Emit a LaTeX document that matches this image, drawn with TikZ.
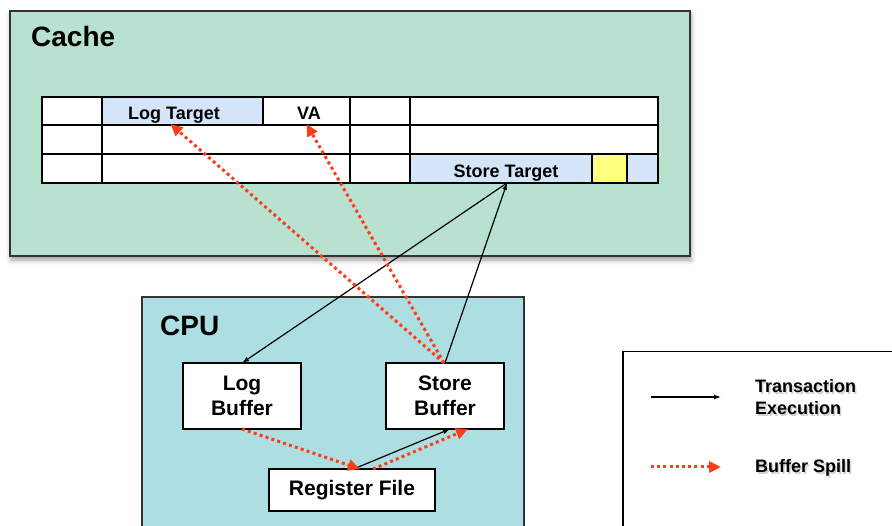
\documentclass[tikz,border=0pt]{standalone}
\usepackage{fontspec}
\setmainfont{Liberation Sans}
\usetikzlibrary{arrows.meta,calc,shadows.blur}

\definecolor{cachegreen}{HTML}{B8E1CF}
\definecolor{cpucyan}{HTML}{ADDFE2}
\definecolor{cellblue}{HTML}{D4E5FA}
\definecolor{cellyellow}{HTML}{FFFF80}
\definecolor{spillred}{HTML}{FF3B1A}

\tikzset{
  cell/.style={draw=black, line width=1.6pt, fill=white, inner sep=0pt, outer sep=0pt, anchor=north west},
  unit/.style={draw=black!80, line width=1.6pt, inner sep=0pt, outer sep=0pt, anchor=north west},
  block/.style={draw=black, line width=1.5pt, fill=white, align=center,
    font=\fontsize{21}{25}\selectfont\bfseries, inner sep=0pt, outer sep=0pt},
  exec/.style={-{Latex[length=7pt,width=5pt]}, line width=1.2pt, black},
  spill/.style={-{Triangle[length=12pt,width=11pt]}, line width=3pt, spillred,
    dash pattern=on 3pt off 3.2pt},
  title/.style={font=\fontsize{28}{32}\selectfont\bfseries, anchor=base west, inner sep=0pt},
  celltext/.style={font=\fontsize{18}{20}\selectfont\bfseries, anchor=base, inner sep=0pt},
  legtext/.style={font=\fontsize{18}{20}\selectfont\bfseries, anchor=base west, inner sep=0pt},
  legshadow/.style={legtext, text=black!40, opacity=0.45},
}

\begin{document}
\begin{tikzpicture}[x=1pt,y=-1pt]
\useasboundingbox (0,0) rectangle (892,526);
\clip (0,0) rectangle (892,526);

% cache block
\node[unit, fill=cachegreen, minimum width=680pt, minimum height=245pt,
  blur shadow={shadow xshift=1pt, shadow yshift=-4pt, shadow blur radius=5pt}] (cache) at (10,11) {};
\node[title] (cachetitle) at (31,47) {Cache};

% cache lines: row 1
\node[cell, minimum width=60pt, minimum height=28pt] (r1a) at (42,97) {};
\node[cell, fill=cellblue, minimum width=161pt, minimum height=28pt] (lt) at (102,97) {};
\node[cell, minimum width=87pt, minimum height=28pt] (va) at (263,97) {};
\node[cell, minimum width=60pt, minimum height=28pt] (r1d) at (350,97) {};
\node[cell, minimum width=248pt, minimum height=28pt] (r1e) at (410,97) {};
% row 2
\node[cell, minimum width=60pt, minimum height=29pt] (r2a) at (42,125) {};
\node[cell, minimum width=248pt, minimum height=29pt] (r2b) at (102,125) {};
\node[cell, minimum width=60pt, minimum height=29pt] (r2c) at (350,125) {};
\node[cell, minimum width=248pt, minimum height=29pt] (r2d) at (410,125) {};
% row 3
\node[cell, minimum width=60pt, minimum height=29pt] (r3a) at (42,154) {};
\node[cell, minimum width=248pt, minimum height=29pt] (r3b) at (102,154) {};
\node[cell, minimum width=60pt, minimum height=29pt] (r3c) at (350,154) {};
\node[cell, fill=cellblue, minimum width=182pt, minimum height=29pt] (st) at (410,154) {};
\node[cell, fill=cellyellow, minimum width=35pt, minimum height=29pt] (r3e) at (592,154) {};
\node[cell, fill=cellblue, minimum width=31pt, minimum height=29pt] (r3f) at (627,154) {};

\node[celltext] (ltlabel) at (174,120) {Log Target};
\node[celltext] (valabel) at (309,120) {VA};
\node[celltext] (stlabel) at (506,178) {Store Target};

% processor block
\node[unit, fill=cpucyan, minimum width=382pt, minimum height=260pt] (cpu) at (142,297) {};
\node[title] (cputitle) at (160,336) {CPU};

\node[block, minimum width=118pt, minimum height=66pt] (lb) at (242,396) {Log\\Buffer};
\node[block, minimum width=118pt, minimum height=66pt] (sb) at (445,396) {Store\\Buffer};
\node[block, minimum width=166pt, minimum height=42pt] (rf) at (352,490) {Register File};

% legend
\node[draw=black, line width=1.5pt, fill=white, inner sep=0pt, anchor=north west,
  minimum width=290pt, minimum height=200pt] (legend) at (622,351) {};
\coordinate (ex1) at (651,397);
\coordinate (ex2) at (721,397);
\coordinate (sp1) at (651,467);
\coordinate (sp2) at (721,467);
\draw[exec] (ex1) -- (ex2);
\draw[spill] (sp1) -- (sp2);
\node[legshadow] at (756.5,394.5) {Transaction};
\node[legshadow] at (756.5,416.5) {Execution};
\node[legshadow] at (756.5,474.5) {Buffer Spill};
\node[legtext] (lg1) at (755,393) {Transaction};
\node[legtext] (lg2) at (755,415) {Execution};
\node[legtext] (lg3) at (755,473) {Buffer Spill};

% transaction execution
\draw[exec] (sb.north) -- ($(st.south)+(6,0)$);
\draw[exec] ($(st.south)+(6,0)$) -- (lb.north);
\draw[exec] ($(rf.north)+(4,-1)$) -- ($(sb.south)+(5,0)$);

% buffer spills
\draw[spill] ($(sb.north)+(-1,0)$) -- ($(lt.south)+(-12,-1)$);
\draw[spill] ($(sb.north)+(-1,0)$) -- ($(va.south)+(0,-1)$);
\draw[spill] (lb.south) -- ($(rf.north)+(8,0)$);
\draw[spill] ($(rf.north)+(21,0)$) -- ($(sb.south)+(23,0)$);
\end{tikzpicture}
\end{document}
